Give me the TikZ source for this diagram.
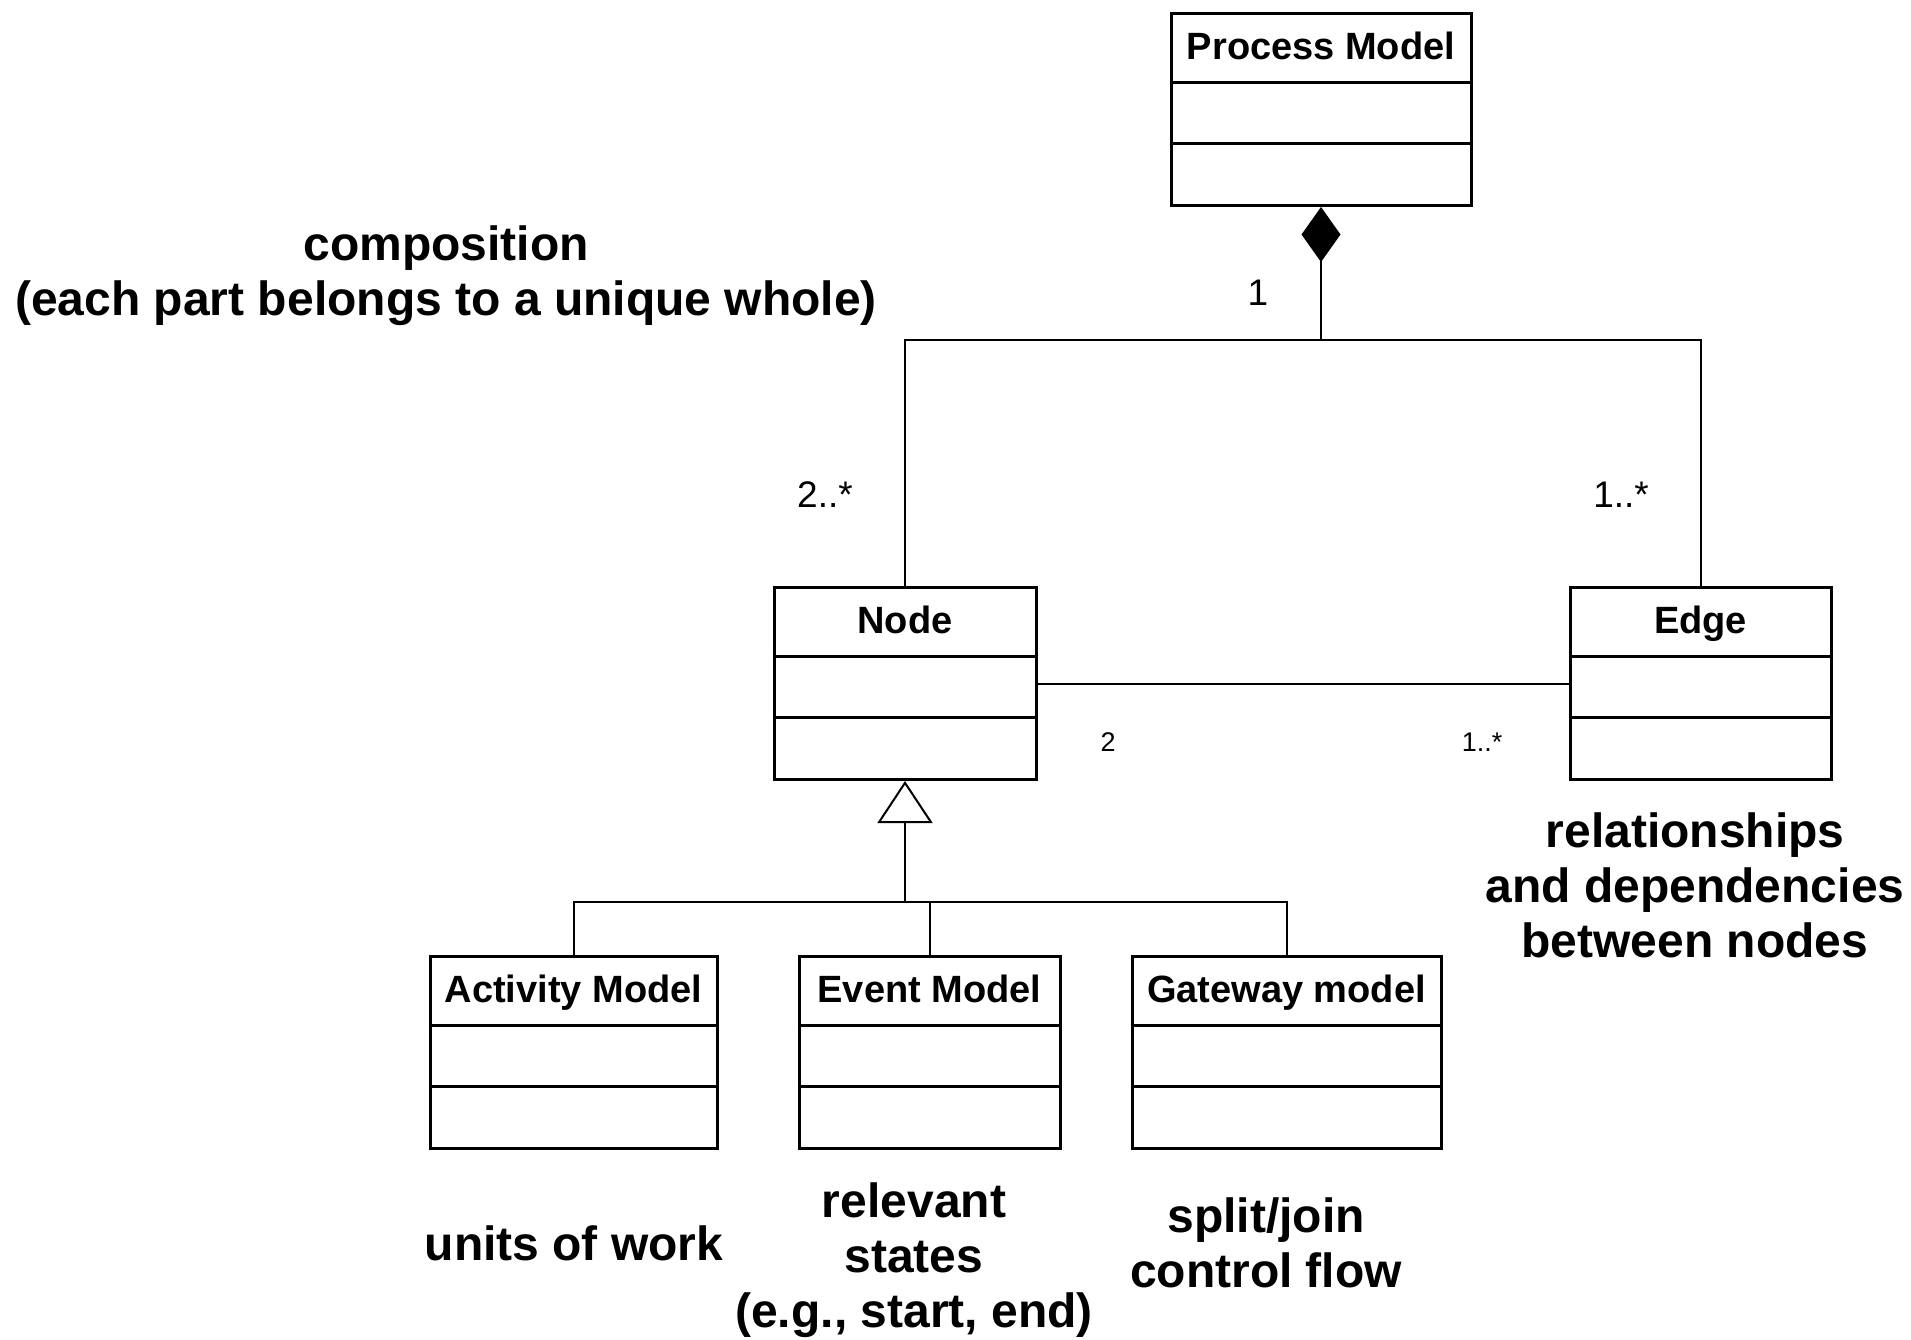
\documentclass[tikz,border=0pt]{standalone}
\usepackage{fontspec}
\setmainfont{Liberation Sans}
\usetikzlibrary{arrows.meta}

% UML class box: name, centre x, top y, width, title
\newcommand{\umlclass}[5]{%
  \node[classbox, minimum width=#4pt] (#1) at (#2,#3) {};
  \draw[divider] ([yshift=-70pt]#1.north west) -- ([yshift=-70pt]#1.north east);
  \draw[divider] ([yshift=-131pt]#1.north west) -- ([yshift=-131pt]#1.north east);
  \node[titletext] (#1-title) at ([yshift=-47pt]#1.north) {#5};
}

\begin{document}
\begin{tikzpicture}[x=1pt,y=-1pt,
  classbox/.style={draw, line width=3pt, minimum height=192pt, inner sep=0pt, anchor=north},
  divider/.style={line width=3pt},
  conn/.style={line width=2pt},
  titletext/.style={font=\fontsize{38}{44}\selectfont\bfseries, anchor=base},
  note/.style={font=\fontsize{48}{55}\selectfont\bfseries, align=center},
  mult/.style={font=\fontsize{37}{44}\selectfont},
  smallmult/.style={font=\fontsize{27}{32}\selectfont}]
\useasboundingbox (0,0) rectangle (1911,1339);

% classes
\umlclass{pm}{1321}{12}{300}{Process Model}
\umlclass{nd}{905}{586}{262}{Node}
\umlclass{ed}{1700.5}{586}{261}{Edge}
\umlclass{act}{573.5}{955}{287}{Activity Model}
\umlclass{evt}{929.5}{955}{261}{Event Model}
\umlclass{gwy}{1286.5}{955}{309}{Gateway model}

% composition: Process Model owns nodes and edges
\coordinate (junc) at (1321,340);
\draw[conn, {Diamond[length=55pt,width=39pt]}-] (pm.south) -- (junc);
\draw[conn] (nd.north) |- (junc) -| (ed.north);

% association between nodes and edges
\draw[conn] (nd.east) -- (ed.west);

% generalization of Node
\coordinate (gj) at (905,902);
\draw[conn, -{Triangle[open, length=42pt, width=55pt]}] (gj) -- (nd.south);
\draw[conn] (act.north) |- (gj) -| (gwy.north);
\draw[conn] (evt.north) -- (evt.north |- gj);

% multiplicities
\node[mult] (m1) at (1258,293) {1};
\node[mult] (m2) at (825,495) {2..*};
\node[mult] (m3) at (1621,495) {1..*};
\node[smallmult] (m4) at (1108,742) {2};
\node[smallmult] (m5) at (1482,742) {1..*};

% annotations
\node[note] (n1) at (446,275.5) {composition\\(each part belongs to a unique whole)};
\node[note] (n2) at (1695,885) {relationships\\and dependencies\\between nodes};
\node[note] (n3) at (574,1243) {units of work};
\node[note] (n4) at (914,1260) {relevant\\states\\(e.g., start, end)};
\node[note] (n5) at (1266,1242.5) {split/join\\control flow};
\end{tikzpicture}
\end{document}
